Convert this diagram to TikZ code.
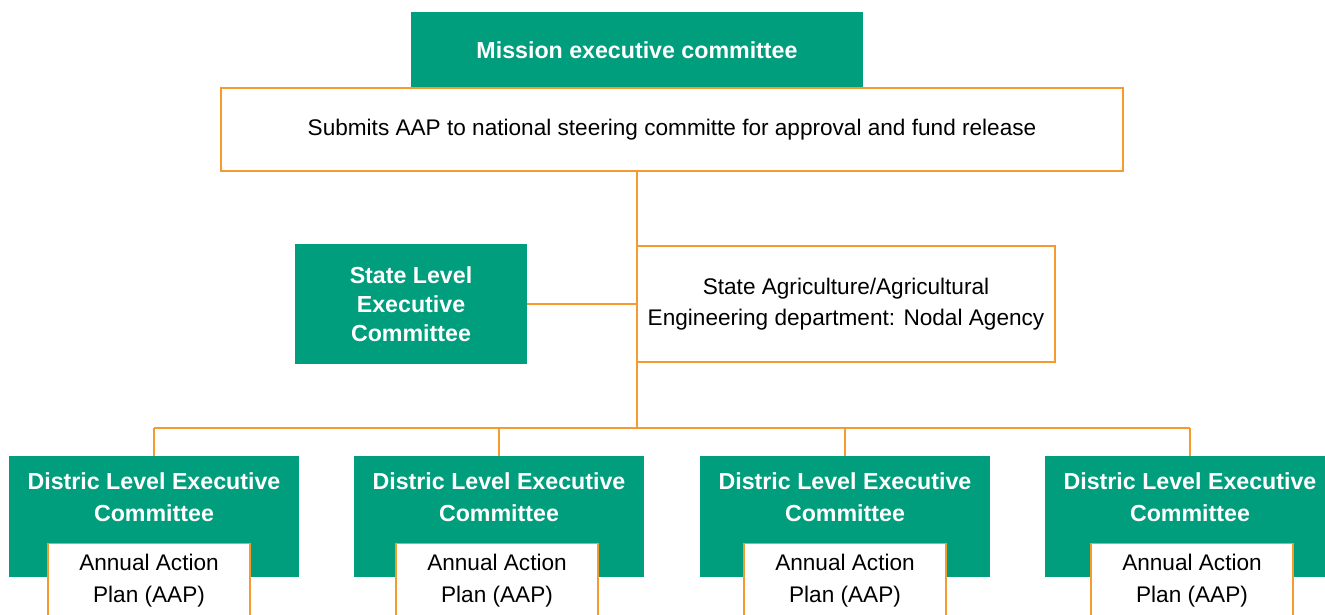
\documentclass[tikz,border=0pt]{standalone}
\usepackage{fontspec}
\setmainfont{Liberation Sans}
\definecolor{pgreen}{HTML}{009E7D}
\definecolor{porange}{HTML}{F59A2E}
\begin{document}
\begin{tikzpicture}[x=1pt,y=-1pt,
  gbox/.style={fill=pgreen, draw=none, inner sep=0pt},
  gtext/.style={text=white, font=\bfseries\fontsize{23.2}{32}\selectfont, align=center, inner sep=0pt},
  obox/.style={fill=white, draw=porange, line width=1.1pt, font=\fontsize{22.6}{31.5}\selectfont, align=center, inner sep=0pt},
  link/.style={draw=porange, line width=1.1pt}]
\useasboundingbox (0,0) rectangle (1325,614);
\clip (0,0) rectangle (1325,614);
\fill[white] (0,0) rectangle (1325,614);

% top
\node[gbox, gtext, minimum width=452pt, minimum height=76pt] (mission) at (637,50) {Mission executive committee};
\node[obox, minimum width=902pt, minimum height=83pt] (submit) at (672,129.5) {Submits AAP to national steering committe for approval and fund release};

% state level
\node[gbox, gtext, minimum width=232pt, minimum height=120pt, font=\bfseries\fontsize{23.2}{29}\selectfont] (state) at (411,304) {State Level\\Executive\\Committee};
\node[obox, minimum width=418pt, minimum height=116pt] (agri) at (846,304) {State Agriculture/Agricultural\\Engineering department: Nodal Agency};

\coordinate (bus) at (637,428);

% district level
\foreach \i/\cx/\ax in {1/154/149, 2/499/497, 3/845/845, 4/1190/1192} {
  \node[gbox, minimum width=290pt, minimum height=121pt] (d\i) at (\cx,516.5) {};
  \node[gtext] (d\i t) at (\cx,497) {Distric Level Executive\\Committee};
  \node[obox, minimum width=202pt, minimum height=74pt, anchor=north] (a\i) at (\ax,543) {Annual Action\\Plan (AAP)};
}

% connectors
\draw[link] (bus |- submit.south) -- (bus);
\draw[link] (state.east) -- (state.east -| agri.west);
\draw[link] (bus -| d1.north) -- (bus -| d4.north);
\foreach \i in {1,...,4} {
  \draw[link] (bus -| d\i.north) -- (d\i.north);
}
\end{tikzpicture}
\end{document}
